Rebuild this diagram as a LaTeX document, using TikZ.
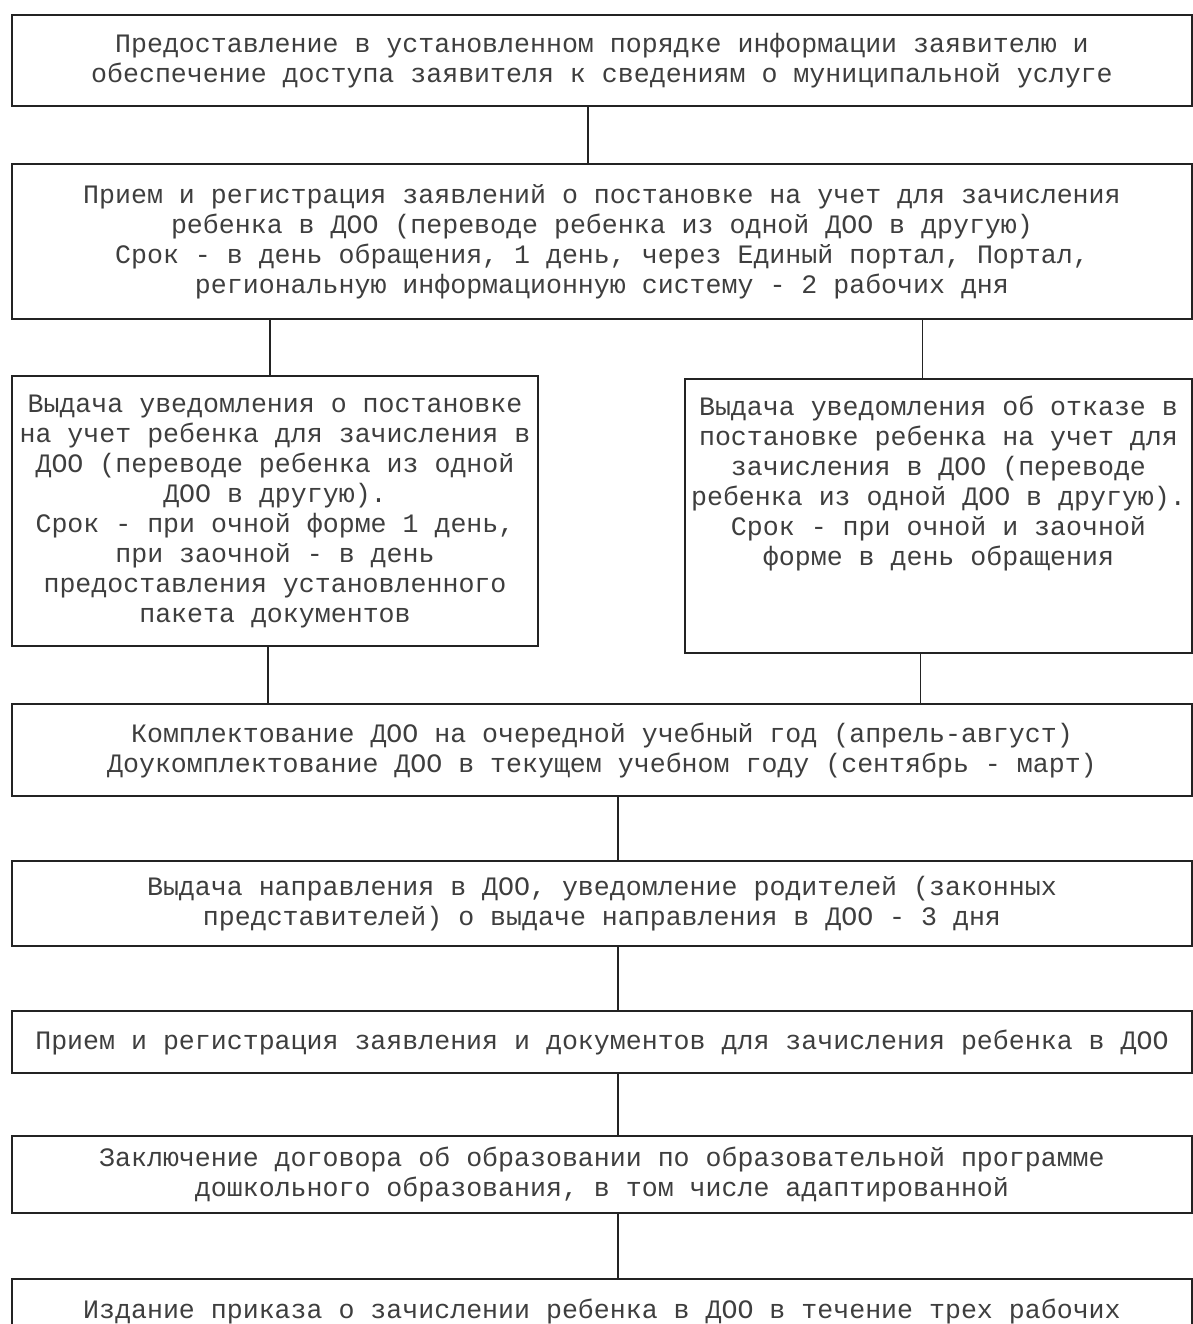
\documentclass[tikz,border=0pt]{standalone}
\usepackage{fontspec}
\setmainfont{Liberation Mono}
\usetikzlibrary{positioning}
\definecolor{scanink}{RGB}{62,62,62}
\definecolor{scanline}{RGB}{35,35,35}

\begin{document}
\begin{tikzpicture}[
    font=\fontsize{13.3pt}{15pt}\selectfont,
    text=scanink,
    box/.style={rectangle, draw=scanline, line width=1pt, inner sep=0pt, outer sep=0pt,
                minimum width=590pt, align=center},
    sidebox/.style={box, minimum width=263pt},
    link/.style={draw=scanline, line width=0.6pt}
]
\useasboundingbox (0,0) rectangle (596.5pt,-662pt);
\clip (0,0) rectangle (596.5pt,-662pt);

% Main column, top part
\node[box, minimum height=45.5pt, anchor=north] (info) at (301pt,-7.5pt)
  {Предоставление в установленном порядке информации заявителю и\\
   обеспечение доступа заявителя к сведениям о муниципальной услуге};
\node[box, minimum height=77.5pt, below=29pt of info] (reg)
  {Прием и регистрация заявлений о постановке на учет для зачисления\\
   ребенка в ДОО (переводе ребенка из одной ДОО в другую)\\
   Срок - в день обращения, 1 день, через Единый портал, Портал,\\
   региональную информационную систему - 2 рабочих дня};

% Two outcomes side by side
\node[sidebox, minimum height=135pt, below=28.5pt of reg.south west, anchor=north west] (accept)
  {Выдача уведомления о постановке\\
   на учет ребенка для зачисления в\\
   ДОО (переводе ребенка из одной\\
   ДОО в другую).\\
   Срок - при очной форме 1 день,\\
   при заочной - в день\\
   предоставления установленного\\
   пакета документов};
\node[sidebox, minimum width=253.5pt, minimum height=137pt, below=30pt of reg.south east, anchor=north east] (refuse)
  {\parbox[c][120pt][t]{250pt}{\centering
   Выдача уведомления об отказе в\\
   постановке ребенка на учет для\\
   зачисления в ДОО (переводе\\
   ребенка из одной ДОО в другую).\\
   Срок - при очной и заочной\\
   форме в день обращения}};

% Main column, bottom part
\node[box, minimum height=46pt, below=29pt of accept.south west, anchor=north west] (plan)
  {Комплектование ДОО на очередной учебный год (апрель-август)\\
   Доукомплектование ДОО в текущем учебном году (сентябрь - март)};
\node[box, minimum height=42.5pt, below=32.5pt of plan] (direction)
  {Выдача направления в ДОО, уведомление родителей (законных\\
   представителей) о выдаче направления в ДОО - 3 дня};
\node[box, minimum height=31pt, below=32.5pt of direction] (docs)
  {Прием и регистрация заявления и документов для зачисления ребенка в ДОО};
\node[box, minimum height=38.5pt, below=31.5pt of docs] (contract)
  {Заключение договора об образовании по образовательной программе\\
   дошкольного образования, в том числе адаптированной};
\node[box, minimum height=32pt, below=33pt of contract] (order)
  {Издание приказа о зачислении ребенка в ДОО в течение трех рабочих};

% Connectors (plain lines, no tips)
\draw[link] ([xshift=-7pt]info.south) -- ([xshift=-7pt]info.south |- reg.north);
\draw[link] ([xshift=-2.5pt]accept.north) -- ([xshift=-2.5pt]accept.north |- reg.south);
\draw[link] ([xshift=-8pt]refuse.north) -- ([xshift=-8pt]refuse.north |- reg.south);
\draw[link] ([xshift=-3.5pt]accept.south) -- ([xshift=-3.5pt]accept.south |- plan.north);
\draw[link] ([xshift=-9pt]refuse.south) -- ([xshift=-9pt]refuse.south |- plan.north);
\draw[link] ([xshift=8pt]plan.south) -- ([xshift=8pt]plan.south |- direction.north);
\draw[link] ([xshift=8pt]direction.south) -- ([xshift=8pt]direction.south |- docs.north);
\draw[link] ([xshift=8pt]docs.south) -- ([xshift=8pt]docs.south |- contract.north);
\draw[link] ([xshift=8pt]contract.south) -- ([xshift=8pt]contract.south |- order.north);
\end{tikzpicture}
\end{document}
